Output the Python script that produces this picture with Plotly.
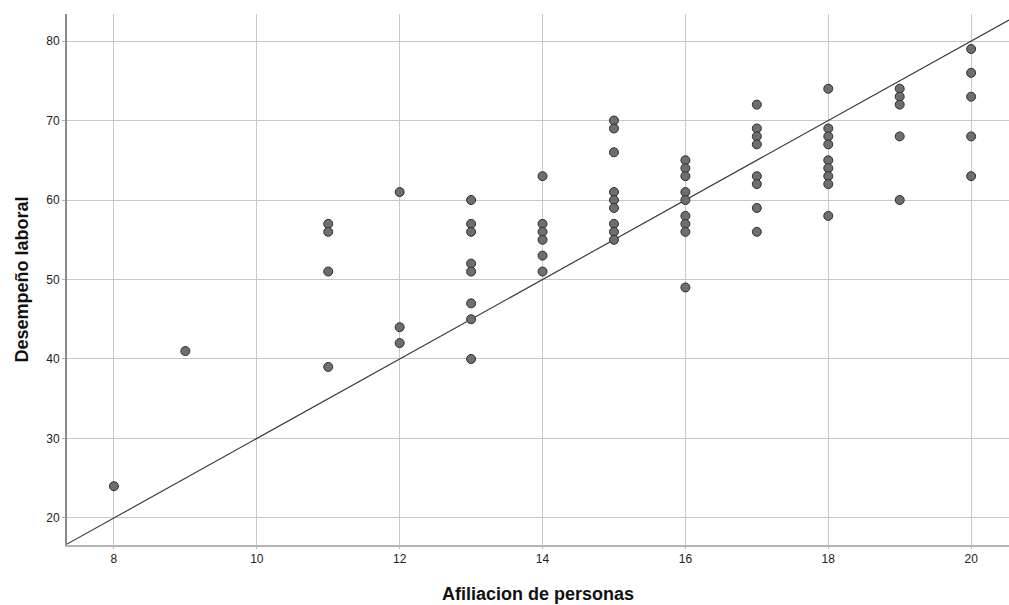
import plotly.graph_objects as go

# Data
afiliacion = (
    [8] + [9] + [11] * 4 + [12] * 3 + [13] * 8 + [14] * 6 + [15] * 9 +
    [16] * 9 + [17] * 8 + [18] * 9 + [19] * 5 + [20] * 5
)
desempeno = (
    [24] +
    [41] +
    [57, 56, 51, 39] +
    [61, 44, 42] +
    [60, 57, 56, 52, 51, 47, 45, 40] +
    [63, 57, 56, 55, 53, 51] +
    [70, 69, 66, 61, 60, 59, 57, 56, 55] +
    [65, 64, 63, 61, 60, 58, 57, 56, 49] +
    [72, 69, 68, 67, 63, 62, 59, 56] +
    [74, 69, 68, 67, 65, 64, 63, 62, 58] +
    [74, 73, 72, 68, 60] +
    [79, 76, 73, 68, 63]
)
# Reference line (y = 5x - 20)
line_x = [7.343, 20.53]
line_slope = 5
line_intercept = -20
line_y = [line_slope * v + line_intercept for v in line_x]

x_ticks = [8, 10, 12, 14, 16, 18, 20]
y_ticks = [20, 30, 40, 50, 60, 70, 80]

fig = go.Figure()
fig.add_trace(go.Scatter(
    x=line_x, y=line_y, mode="lines",
    line=dict(color="#3c3c3c", width=1.2),
    hoverinfo="skip", showlegend=False,
))
fig.add_trace(go.Scatter(
    x=afiliacion, y=desempeno, mode="markers",
    marker=dict(size=9, color="#6e6e6e", line=dict(color="#2e2e2e", width=1)),
    showlegend=False,
))

font_family = "Liberation Sans, Arial, sans-serif"
fig.update_layout(
    width=1009, height=605,
    margin=dict(l=67, r=0, t=14, b=60),
    paper_bgcolor="white", plot_bgcolor="white",
    font=dict(family=font_family, size=12, color="#222222"),
    xaxis=dict(
        range=[7.343, 20.53], tickvals=x_ticks, ticktext=[str(v) for v in x_ticks],
        showgrid=True, gridcolor="#c8c8c8", gridwidth=1,
        showline=True, linecolor="#b4b4b4", linewidth=2,
        ticks="outside", ticklen=2, tickcolor="#b4b4b4",
        zeroline=False,
        title=dict(text="<b>Afiliacion de personas</b>", font=dict(size=18, color="#111111", family=font_family), standoff=22),
        tickfont=dict(size=12, color="#222222"),
    ),
    yaxis=dict(
        range=[16.6, 83.4], tickvals=y_ticks, ticktext=[str(v) for v in y_ticks],
        showgrid=True, gridcolor="#c8c8c8", gridwidth=1,
        showline=True, linecolor="#8c8c8c", linewidth=2,
        ticks="outside", ticklen=3, tickcolor="#b4b4b4",
        zeroline=False,
        title=dict(text="<b>Desempeño laboral</b>", font=dict(size=18, color="#111111", family=font_family), standoff=13),
        tickfont=dict(size=12, color="#222222"),
    ),
)

fig.write_html("out.html")
